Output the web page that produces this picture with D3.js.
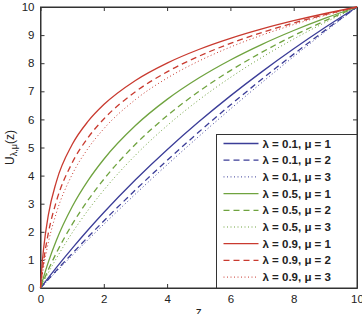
<!DOCTYPE html>
<html>
<head>
<meta charset="utf-8">
<script src="https://cdn.jsdelivr.net/npm/d3@7"></script>
<style>
  body { margin: 0; background: #fff; }
  text { font-family: "Liberation Sans", Arial, sans-serif; fill: #222; }
  .axis text { font-size: 11.5px; }
  .axis path, .axis line { stroke: #333; }
</style>
</head>
<body>
<div id="chart"></div>
<script>
const width = 362, height = 314;
const margin = { top: 7, right: 5, bottom: 26, left: 40.5 };
const innerWidth = width - margin.left - margin.right;
const innerHeight = height - margin.top - margin.bottom;

// z sample points
const zValues = [0, 0.05, 0.1, 0.25, 0.5, 1, 1.5, 2, 3, 4, 5, 6, 7, 8, 9, 10];

// U values per curve (lambda, mu)
const u01m1 = [0, 0.074, 0.148, 0.367, 0.724, 1.41, 2.063, 2.686, 3.85, 4.921, 5.913, 6.837, 7.70, 8.512, 9.277, 10];
const u01m2 = [0, 0.063, 0.125, 0.312, 0.620, 1.224, 1.812, 2.385, 3.489, 4.542, 5.548, 6.511, 7.435, 8.323, 9.177, 10];
const u01m3 = [0, 0.059, 0.117, 0.293, 0.582, 1.154, 1.716, 2.268, 3.344, 4.385, 5.392, 6.369, 7.316, 8.236, 9.13, 10];
const u05m1 = [0, 0.203, 0.397, 0.931, 1.691, 2.891, 3.821, 4.582, 5.781, 6.712, 7.472, 8.115, 8.672, 9.163, 9.603, 10];
const u05m2 = [0, 0.138, 0.272, 0.657, 1.245, 2.263, 3.123, 3.869, 5.114, 6.131, 6.992, 7.737, 8.394, 8.982, 9.514, 10];
const u05m3 = [0, 0.113, 0.224, 0.546, 1.051, 1.962, 2.765, 3.484, 4.727, 5.778, 6.689, 7.492, 8.211, 8.861, 9.454, 10];
const u09m1 = [0, 0.824, 1.423, 2.613, 3.779, 5.105, 5.928, 6.527, 7.387, 8.005, 8.488, 8.884, 9.22, 9.511, 9.769, 10];
const u09m2 = [0, 0.530, 0.970, 1.969, 3.079, 4.453, 5.348, 6.014, 6.985, 7.691, 8.246, 8.703, 9.093, 9.431, 9.731, 10];
const u09m3 = [0, 0.407, 0.764, 1.630, 2.668, 4.037, 4.964, 5.667, 6.705, 7.469, 8.074, 8.574, 9.001, 9.374, 9.704, 10];

const seriesLabels = [
  "λ = 0.1, μ = 1", "λ = 0.1, μ = 2", "λ = 0.1, μ = 3",
  "λ = 0.5, μ = 1", "λ = 0.5, μ = 2", "λ = 0.5, μ = 3",
  "λ = 0.9, μ = 1", "λ = 0.9, μ = 2", "λ = 0.9, μ = 3"
];
const seriesValues = [u01m1, u01m2, u01m3, u05m1, u05m2, u05m3, u09m1, u09m2, u09m3];

const xTicks = [0, 2, 4, 6, 8, 10];
const yTicks = [0, 1, 2, 3, 4, 5, 6, 7, 8, 9, 10];

// style per lambda (colour) and mu (dash)
const colors = ["#3b3d98", "#6fa33f", "#c93a2f"];
const dashes = [null, "6,4", "1,2.5"];

const svg = d3.select("#chart").append("svg")
  .attr("width", width).attr("height", height);

const g = svg.append("g").attr("transform", `translate(${margin.left},${margin.top})`);

const x = d3.scaleLinear().domain([0, 10]).range([0, innerWidth]);
const y = d3.scaleLinear().domain([0, 10]).range([innerHeight, 0]);

// axes, ticks pointing inward like matlab
g.append("g").attr("class", "axis")
  .attr("transform", `translate(0,${innerHeight})`)
  .call(d3.axisBottom(x).tickValues(xTicks).tickSizeInner(-4).tickSizeOuter(0).tickPadding(7));
g.append("g").attr("class", "axis")
  .call(d3.axisLeft(y).tickValues(yTicks).tickSizeInner(-4).tickSizeOuter(0).tickPadding(6));
g.append("g").attr("class", "axis")
  .call(d3.axisTop(x).tickValues(xTicks).tickSizeInner(-4).tickSizeOuter(0).tickFormat(""));
g.append("g").attr("class", "axis")
  .attr("transform", `translate(${innerWidth},0)`)
  .call(d3.axisRight(y).tickValues(yTicks).tickSizeInner(-4).tickSizeOuter(0).tickFormat(""));

g.append("rect")
  .attr("width", innerWidth).attr("height", innerHeight)
  .attr("fill", "none").attr("stroke", "#333");

// curves
const line = d3.line()
  .x((d, i) => x(zValues[i]))
  .y(d => y(d))
  .curve(d3.curveMonotoneX);

seriesValues.forEach((vals, k) => {
  g.append("path")
    .datum(vals)
    .attr("d", line)
    .attr("fill", "none")
    .attr("stroke", colors[Math.floor(k / 3)])
    .attr("stroke-width", k % 3 === 2 ? 1 : 1.3)
    .attr("stroke-dasharray", dashes[k % 3]);
});

// legend
const legX = 216.5 - margin.left, legY = 134.5 - margin.top;
const legW = innerWidth - legX, legH = innerHeight - legY;
const legend = g.append("g").attr("transform", `translate(${legX},${legY})`);
legend.append("rect")
  .attr("width", legW).attr("height", legH)
  .attr("fill", "#fff").attr("stroke", "#333");

seriesLabels.forEach((lab, k) => {
  const ly = 9 + k * 16.7;
  legend.append("line")
    .attr("x1", 7).attr("x2", 42).attr("y1", ly).attr("y2", ly)
    .attr("stroke", colors[Math.floor(k / 3)])
    .attr("stroke-width", k % 3 === 2 ? 1 : 1.3)
    .attr("stroke-dasharray", dashes[k % 3]);
  legend.append("text")
    .attr("x", 46).attr("y", ly + 4)
    .style("font-size", "11.5px")
    .style("font-weight", "bold")
    .text(lab);
});

// axis labels
svg.append("text")
  .attr("x", margin.left + x(5)).attr("y", height + 2)
  .attr("text-anchor", "middle")
  .style("font-size", "12px")
  .text("z");

const yl = svg.append("text")
  .attr("transform", `translate(14,${margin.top + y(5)}) rotate(-90)`)
  .attr("text-anchor", "middle")
  .style("font-size", "12px");
yl.append("tspan").text("U");
yl.append("tspan").attr("dy", 3).style("font-size", "9px").text("λ,μ");
yl.append("tspan").attr("dy", -3).text("(z)");
</script>
</body>
</html>
